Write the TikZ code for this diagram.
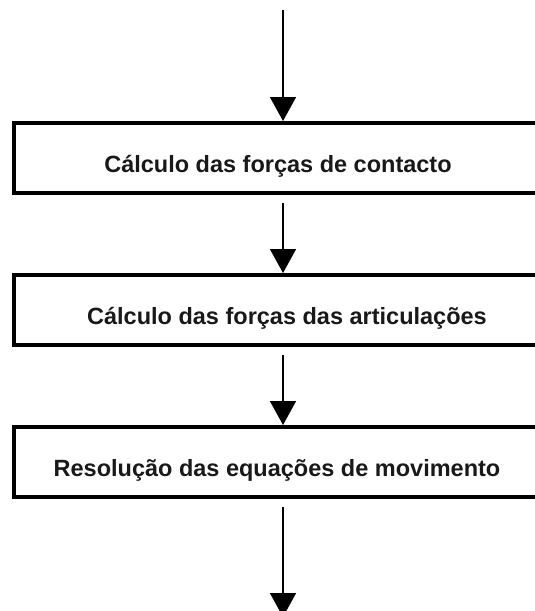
\documentclass[tikz,border=0pt]{standalone}
\usepackage{fontspec}
\setmainfont{Liberation Sans}
\usetikzlibrary{arrows.meta}
\begin{document}
\begin{tikzpicture}[x=1pt,y=-1pt,
  box/.style={draw=black, line width=4pt, minimum width=538pt, minimum height=70pt, inner sep=0pt, anchor=north west},
  txt/.style={anchor=base, inner sep=0pt, font=\fontsize{23.5}{28}\selectfont\bfseries, text=black!90},
  arr/.style={line width=1.5pt, -{Triangle[width=26pt,length=24pt]}}]
\useasboundingbox (0,0) rectangle (535,611);
\clip (0,0) rectangle (535,611);
\fill[white] (0,0) rectangle (535,611);
\node[box] (b1) at (12,121) {};
\node[box] (b2) at (12,273) {};
\node[box] (b3) at (12,425) {};
\node[txt] (t1) at (278,172) {Cálculo das forças de contacto};
\node[txt] (t2) at (287,324) {Cálculo das forças das articulações};
\node[txt] (t3) at (277,476) {Resolução das equações de movimento};
\coordinate (s0) at (283,10);
\coordinate (e4) at (283,617);
\draw[arr] (s0) -- (b1.north);
\draw[arr, shorten <=8pt] (b1.south) -- (b2.north);
\draw[arr, shorten <=8pt] (b2.south) -- (b3.north);
\draw[arr, shorten <=8pt] (b3.south) -- (e4);
\end{tikzpicture}
\end{document}
